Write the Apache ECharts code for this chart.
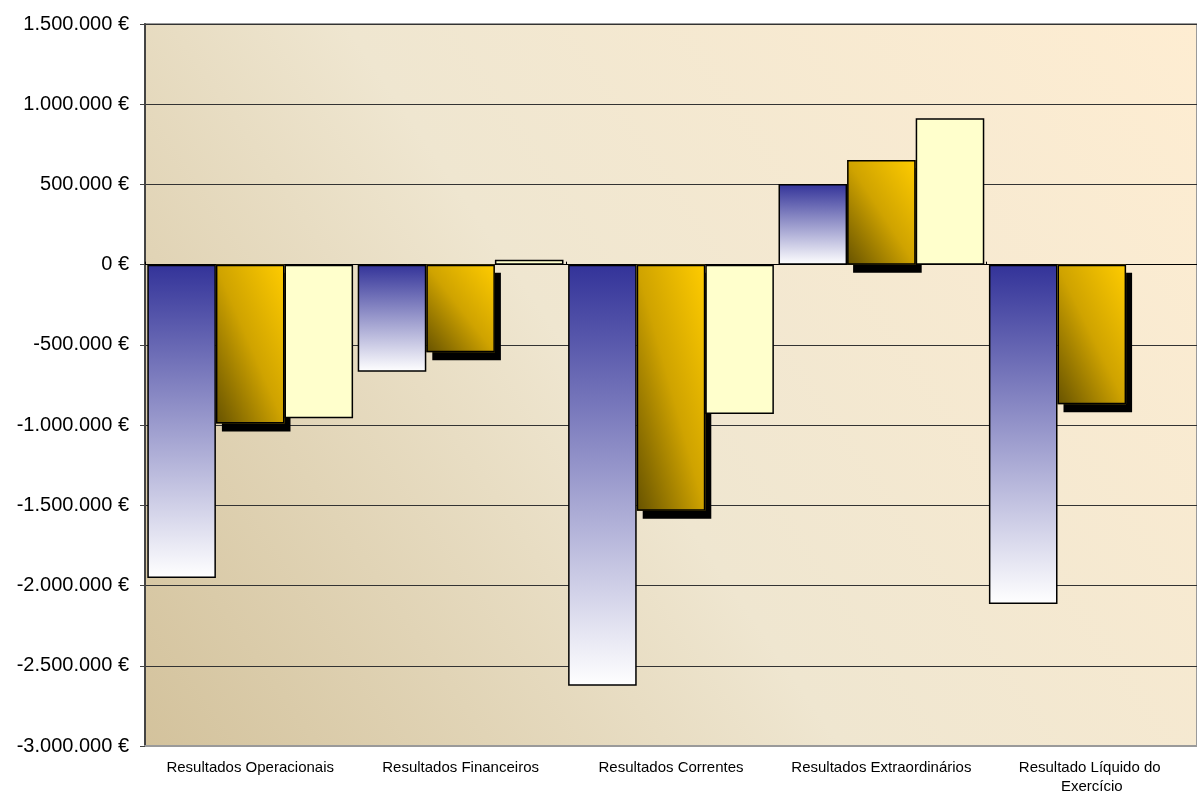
<!DOCTYPE html>
<html>
<head>
<meta charset="utf-8">
<script src="https://cdn.jsdelivr.net/npm/echarts@6/dist/echarts.min.js"></script>
<style>
  html, body { margin: 0; padding: 0; background: #ffffff; }
  #chart { width: 1197px; height: 794px; }
</style>
</head>
<body>
<div id="chart"></div>
<script>
var categories = [
  'Resultados Operacionais',
  'Resultados Financeiros',
  'Resultados Correntes',
  'Resultados Extraordinários',
  'Resultado Líquido do Exercício'
];
var serieAzul = [-1953000, -667000, -2624000, 503000, -2115000];
var serieOuro = [-990000, -546000, -1533000, 653000, -870000];
var serieCreme = [-957000, 30000, -931000, 912000, null];
var yTicks = { min: -3000000, max: 1500000, step: 500000 };

(function() {
  var chart = echarts.init(document.getElementById('chart'), null, { renderer: 'canvas' });
  var font = "'Liberation Sans', Arial, sans-serif";
  var barPct = 0.326;

  function euro(v) {
    var neg = v < 0;
    var s = String(Math.abs(v)).replace(/\B(?=(\d{3})+(?!\d))/g, '.');
    return (neg ? '-' : '') + s + ' €';
  }

  var border = { borderColor: '#000', borderWidth: 1.5 };
  var empty = categories.map(function() { return null; });
  var goldStops = [
    { offset: 0, color: '#FFCC00' },
    { offset: 0.5, color: '#CFA300' },
    { offset: 1, color: '#665200' }
  ];

  function bar(id, data, axis, itemStyle) {
    return {
      id: id, name: id, type: 'bar', data: data, xAxisIndex: axis,
      barWidth: (barPct * 100) + '%', barGap: '0%', itemStyle: itemStyle, silent: axis === 1
    };
  }

  chart.setOption({
    animation: false,
    backgroundColor: '#ffffff',
    grid: {
      left: 145, right: 0, top: 24, bottom: 48,
      outerBoundsMode: 'none',
      show: true,
      borderColor: '#9a9a9a',
      borderWidth: 2,
      backgroundColor: new echarts.graphic.LinearGradient(0, 1, 1, 0, [
        { offset: 0, color: '#D3C29C' },
        { offset: 0.45, color: '#EFE6D0' },
        { offset: 1, color: '#FEEDD2' }
      ])
    },
    xAxis: [{
      type: 'category',
      data: categories,
      position: 'bottom',
      axisLine: { onZero: false, lineStyle: { color: '#9a9a9a', width: 2 } },
      axisTick: { show: false },
      axisLabel: {
        color: '#000', fontFamily: font, fontSize: 15, margin: 12,
        lineHeight: 19, width: 205, overflow: 'break', interval: 0
      }
    }, {
      type: 'category',
      data: categories,
      position: 'bottom',
      axisLine: { onZero: true, lineStyle: { color: '#000', width: 1 } },
      axisTick: { show: true, inside: true, length: 3, lineStyle: { color: '#000' } },
      axisLabel: { show: false }
    }],
    yAxis: {
      type: 'value',
      min: yTicks.min,
      max: yTicks.max,
      interval: yTicks.step,
      axisLine: { show: true, lineStyle: { color: '#444', width: 2 } },
      axisTick: { show: true, length: 5, lineStyle: { color: '#444' } },
      axisLabel: {
        color: '#000', fontFamily: font, fontSize: 20, margin: 16,
        formatter: euro
      },
      splitLine: { show: true, lineStyle: { color: '#333', width: 1 } }
    },
    series: [
      bar('azul', serieAzul, 0, Object.assign({
        color: new echarts.graphic.LinearGradient(0, 0, 0, 1, [
          { offset: 0, color: '#333399' },
          { offset: 1, color: '#FFFFFF' }
        ])
      }, border)),
      // gold fill with drop shadow, no stroke (stroke shadow would fall inside)
      bar('ouro', serieOuro, 0, {
        color: new echarts.graphic.LinearGradient(1, 0, 0, 1, goldStops),
        borderWidth: 0,
        shadowColor: '#000',
        shadowBlur: 0,
        shadowOffsetX: 6,
        shadowOffsetY: 8
      }),
      bar('creme', serieCreme, 0, Object.assign({ color: '#FFFFCC' }, border)),
      // outline for the gold bars, laid out on the second category axis
      bar('p1', empty, 1, { color: 'transparent' }),
      bar('ouroContorno', serieOuro, 1, Object.assign({ color: 'transparent' }, border)),
      bar('p3', empty, 1, { color: 'transparent' })
    ]
  });

  // diagonal gold fill: iso-lines follow the bar's other diagonal, like Excel
  var zero = chart.convertToPixel({ yAxisIndex: 0 }, 0);
  var catW = chart.convertToPixel({ xAxisIndex: 0 }, categories[1]) -
             chart.convertToPixel({ xAxisIndex: 0 }, categories[0]);
  var W = catW * barPct;
  var goldData = serieOuro.map(function(v) {
    var H = Math.max(1, Math.abs(chart.convertToPixel({ yAxisIndex: 0 }, v) - zero));
    var k = 2 / (1 / (W * W) + 1 / (H * H));
    return {
      value: v,
      itemStyle: {
        color: new echarts.graphic.LinearGradient(1, 0, 1 - k / (W * W), k / (H * H), goldStops)
      }
    };
  });
  chart.setOption({ series: [{ id: 'ouro', data: goldData }] });

  window.addEventListener('resize', function() { chart.resize(); });
})();
</script>
</body>
</html>
